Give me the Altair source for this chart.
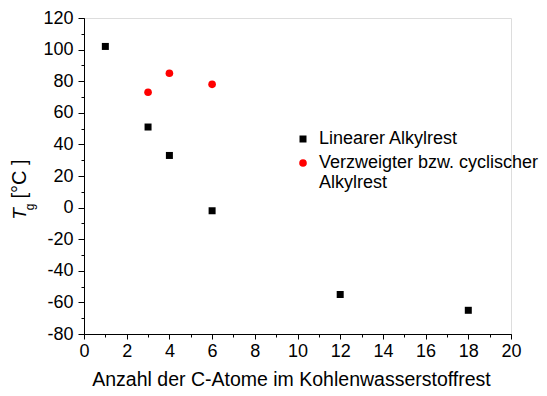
import altair as alt
import pandas as pd

# Data
lin_x = [1, 3, 4, 6, 12, 18]
lin_y = [102, 51, 33, -2, -55, -65]
br_x = [3, 4, 6]
br_y = [73, 85, 78]
series = ["Linearer Alkylrest", "Verzweigter bzw. cyclischer Alkylrest"]
x_major = list(range(0, 21, 2))
x_minor = list(range(0, 21, 1))
y_major = list(range(-80, 121, 20))
y_minor = list(range(-80, 121, 10))

df = pd.DataFrame({
    "x": lin_x + br_x,
    "y": lin_y + br_y,
    "s": [series[0]] * len(lin_x) + [series[1]] * len(br_x),
})

FONT = "Liberation Sans"
xs = alt.Scale(domain=[0, 20], nice=False, zero=False)
ys = alt.Scale(domain=[-80, 120], nice=False, zero=False)

leg = alt.Legend(
    title=None, orient="none", legendX=210, legendY=112,
    labelFont=FONT, labelFontSize=18, labelColor="black",
    symbolSize=45, rowPadding=6, labelOffset=7, labelLimit=400,
    labelExpr="datum.label == 'Verzweigter bzw. cyclischer Alkylrest' ? ['Verzweigter bzw. cyclischer', 'Alkylrest'] : datum.label",
)

points = alt.Chart(df).mark_point(filled=True, opacity=1, strokeWidth=0).encode(
    x=alt.X("x:Q", scale=xs, axis=alt.Axis(
        values=x_major, title="Anzahl der C-Atome im Kohlenwasserstoffrest",
        orient="bottom", grid=False, tickSize=5, labelPadding=3,
        labelFontSize=18, titleFontSize=19.5, titleFontWeight="normal", titlePadding=10,
        titleX=207, titleAlign="center",
        domainColor="black", tickColor="black", labelColor="black", titleColor="black",
        labelFont=FONT, titleFont=FONT, labelFlush=False,
        labelExpr="'' + datum.value")),
    y=alt.Y("y:Q", scale=ys, axis=alt.Axis(
        values=y_major, title=None, orient="left", grid=False, tickSize=6, labelPadding=5,
        labelFontSize=18, domainColor="black", tickColor="black", labelColor="black",
        labelFont=FONT, labelFlush=False, labelExpr="'' + datum.value")),
    color=alt.Color("s:N", scale=alt.Scale(domain=series, range=["black", "red"]), legend=leg),
    shape=alt.Shape("s:N", scale=alt.Scale(domain=series, range=["square", "circle"]), legend=leg),
    size=alt.Size("s:N", scale=alt.Scale(domain=series, range=[49, 58]), legend=leg),
)

minor = alt.Chart(df).mark_point(opacity=0).encode(
    x=alt.X("x:Q", scale=xs, axis=alt.Axis(
        values=x_minor, title=None, labels=False, orient="bottom", grid=False,
        tickSize=3, domain=False, tickColor="black")),
    y=alt.Y("y:Q", scale=ys, axis=alt.Axis(
        values=y_minor, title=None, labels=False, orient="left", grid=False,
        tickSize=3, domain=False, tickColor="black")),
)

ytitle_T = alt.Chart(pd.DataFrame({"t": ["T"]})).mark_text(
    angle=270, font=FONT, fontSize=19, fontStyle="italic", color="black",
    align="center", baseline="middle").encode(
    text="t:N", x=alt.value(-64), y=alt.value(196))
ytitle_g = alt.Chart(pd.DataFrame({"t": ["g"]})).mark_text(
    angle=270, font=FONT, fontSize=12, color="black",
    align="center", baseline="middle").encode(
    text="t:N", x=alt.value(-54), y=alt.value(189))
ytitle_u = alt.Chart(pd.DataFrame({"t": ["[°C ]"]})).mark_text(
    angle=270, font=FONT, fontSize=20, color="black",
    align="center", baseline="middle").encode(
    text="t:N", x=alt.value(-64), y=alt.value(161))

chart = alt.layer(minor, points, ytitle_T, ytitle_g, ytitle_u).resolve_axis(
    x="independent", y="independent"
).properties(
    width=427, height=316,
    autosize=alt.AutoSizeParams(type="none"),
    padding={"left": 76, "top": 10, "right": 28, "bottom": 54},
).configure_view(stroke=None).configure(background="white")

chart.save("out.html", embed_options={"renderer": "svg", "actions": False})
